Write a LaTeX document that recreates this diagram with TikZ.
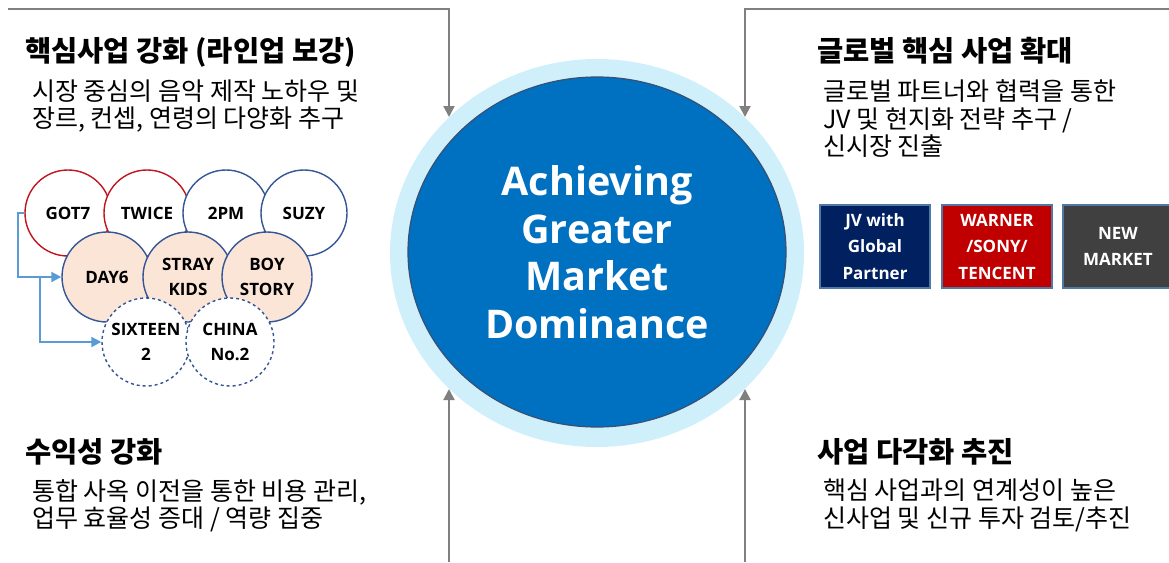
\documentclass[tikz,border=0pt]{standalone}
\usepackage{fontspec}
\setmainfont{Open Sans}
\newfontfamily\kr{Noto Sans CJK KR}
\usetikzlibrary{shapes.geometric,arrows.meta}
\definecolor{arrowgray}{RGB}{128,128,128}
\definecolor{ringblue}{RGB}{207,239,251}
\definecolor{coreblue}{RGB}{0,112,192}
\definecolor{coreedge}{RGB}{55,80,115}
\definecolor{cred}{RGB}{192,20,30}
\definecolor{cblue}{RGB}{52,85,150}
\definecolor{peach}{RGB}{251,229,214}
\definecolor{lineblue}{RGB}{91,155,213}
\definecolor{navy}{RGB}{0,32,96}
\definecolor{boxred}{RGB}{192,0,0}
\definecolor{boxgray}{RGB}{64,64,64}
\definecolor{boxedge}{RGB}{80,120,165}
\begin{document}
\begin{tikzpicture}[x=1pt,y=-1pt,
  conn/.style={draw=arrowgray, line width=2pt, -{Triangle[length=11pt,width=11pt]}},
  bconn/.style={draw=lineblue, line width=2pt, -{Triangle[length=10pt,width=10pt]}},
  grp/.style={circle, inner sep=0, fill=white, line width=1.4pt, font=\bfseries\fontsize{17}{25}\selectfont, align=center},
  redc/.style={grp, draw=cred, minimum size=86pt},
  bluec/.style={grp, draw=cblue, minimum size=86pt},
  peachc/.style={grp, draw=cblue, fill=peach, minimum size=90pt},
  dashc/.style={grp, draw=cblue, dashed, minimum size=88pt},
  bx/.style={rectangle, minimum width=110pt, minimum height=83pt, inner sep=0, draw=boxedge, line width=1.2pt, text=white, font=\bfseries\fontsize{17}{26.5}\selectfont, align=center},
  krh/.style={anchor=base west, inner sep=0, font=\kr\bfseries\fontsize{28.5}{32}\selectfont},
  krb/.style={anchor=base west, inner sep=0, font=\kr\fontsize{25}{29}\selectfont}]
\useasboundingbox (0,0) rectangle (1169,562);

% central ellipse
\node[ellipse, minimum width=414pt, minimum height=388pt, fill=ringblue, inner sep=0] (outer) at (597,253) {};
\node[ellipse, minimum width=378pt, minimum height=350pt, fill=coreblue, draw=coreedge, line width=1.2pt, inner sep=0] (core) at (597,252) {};
\node[text=white, font=\bfseries\fontsize{39.5}{47.5}\selectfont, align=center, inner sep=0] (title) at (597,252) {Achieving\\Greater\\Market\\Dominance};

% gray arrows
\coordinate (tls) at (8,9);
\coordinate (tle) at (449,117);
\coordinate (trs) at (1169,9);
\coordinate (tre) at (745,117);
\coordinate (bls) at (449,562);
\coordinate (ble) at (449,389);
\coordinate (brs) at (745,562);
\coordinate (bre) at (745,389);
\draw[conn] (tls) -| (tle);
\draw[conn] (trs) -| (tre);
\draw[conn] (bls) -- (ble);
\draw[conn] (brs) -- (bre);

% headings and texts
\node[krh] (h1) at (25,61) {핵심사업 강화 (라인업 보강)};
\node[krb] (t1a) at (32,100) {시장 중심의 음악 제작 노하우 및};
\node[krb] (t1b) at (32,127) {장르, 컨셉, 연령의 다양화 추구};

\node[krh] (h2) at (817,61) {글로벌 핵심 사업 확대};
\node[krb] (t2a) at (823,100) {글로벌 파트너와 협력을 통한};
\node[krb] (t2b) at (823,128) {JV 및 현지화 전략 추구 /};
\node[krb] (t2c) at (823,155) {신시장 진출};

\node[krh] (h3) at (25,462) {수익성 강화};
\node[krb] (t3a) at (32,500) {통합 사옥 이전을 통한 비용 관리,};
\node[krb] (t3b) at (32,527) {업무 효율성 증대 / 역량 집중};

\node[krh] (h4) at (817,462) {사업 다각화 추진};
\node[krb] (t4a) at (823,499) {핵심 사업과의 연계성이 높은};
\node[krb] (t4b) at (823,527) {신사업 및 신규 투자 검토/추진};

% artist circles
\node[redc] (got) at (68,213) {GOT7};
\node[redc] (twice) at (147,213) {TWICE};
\node[bluec] (pm) at (226,213) {2PM};
\node[bluec] (suzy) at (304,213) {SUZY};
\node[peachc] (day) at (107,277) {DAY6};
\node[peachc] (stray) at (188,277) {STRAY\\KIDS};
\node[peachc] (boy) at (267,277) {BOY\\STORY};
\node[dashc] (six) at (146,342) {SIXTEEN\\2};
\node[dashc] (china) at (230,342) {CHINA\\No.2};

% blue connectors
\draw[bconn] (got.west) -- ++(-6,0) |- (day.west);
\coordinate (br) at (40,277);
\draw[bconn] (br) |- (six.west);

% boxes
\node[bx, fill=navy] (jv) at (875,246.5) {JV with\\Global\\Partner};
\node[bx, fill=boxred] (wsn) at (997,246.5) {WARNER\\/SONY/\\TENCENT};
\node[bx, fill=boxgray] (nm) at (1118,246.5) {NEW\\MARKET};
\end{tikzpicture}
\end{document}
